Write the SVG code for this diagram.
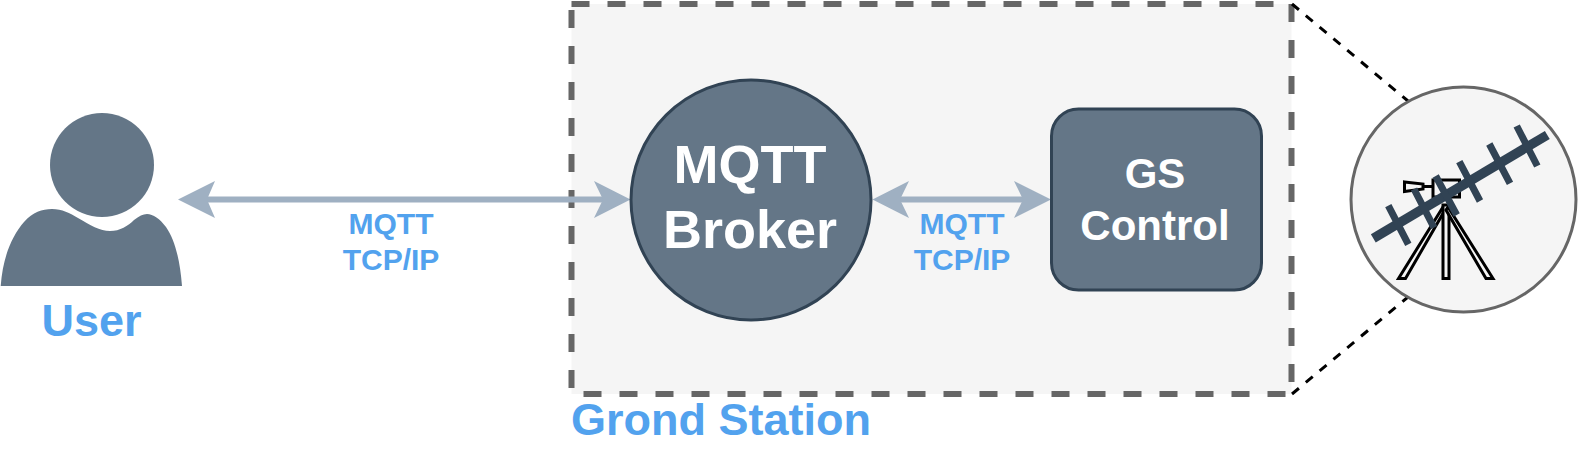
<svg xmlns="http://www.w3.org/2000/svg" width="1593" height="462" viewBox="0 0 1593 462">
<defs>
<style>
text{font-family:"Liberation Sans",Arial,sans-serif;font-weight:bold;text-anchor:middle}
.blue{fill:#52a2ee}
.white{fill:#fff}
.lnk{fill:none;stroke:#9fb0c2;stroke-width:6}
.head{fill:#9fb0c2}
.dark{fill:#647687;stroke:#314354;stroke-width:3}
.el{stroke:#314354;stroke-width:7;fill:none}
.boom{stroke:#314354;stroke-width:9.500;fill:none}
.mount{fill:#f5f5f5;stroke:#000;stroke-width:3}
</style>
</defs>
<g id="ground-station">
<rect x="571.5" y="4" width="720" height="390" fill="#f5f5f5" stroke="#666" stroke-width="6" stroke-dasharray="18 18"/>
<text class="blue" x="721" y="435" font-size="45">Grond Station</text>
</g>
<g id="connectors">
<path d="M1292 4L1408 101" fill="none" stroke="#000" stroke-width="3" stroke-dasharray="9 9"/>
<path d="M1292 394L1408 297" fill="none" stroke="#000" stroke-width="3" stroke-dasharray="9 9"/>
<g id="link-user-broker">
<path class="lnk" d="M207 199.500H603"/>
<path class="head" d="M178 199.500L215 181L207 199.500L215 218Z"/>
<path class="head" d="M630.500 199.500L594 181L603 199.500L594 218Z"/>
</g>
<g id="link-broker-gs">
<path class="lnk" d="M900 199.500H1023"/>
<path class="head" d="M872.500 199.500L909 181L900 199.500L909 218Z"/>
<path class="head" d="M1051 199.500L1014 181L1023 199.500L1014 218Z"/>
</g>
<text class="blue" x="391" y="233.500" font-size="30">MQTT</text>
<text class="blue" x="391" y="269.500" font-size="30">TCP/IP</text>
<text class="blue" x="962" y="233.500" font-size="30">MQTT</text>
<text class="blue" x="962" y="269.500" font-size="30">TCP/IP</text>
</g>
<g id="user">
<circle cx="102" cy="165" r="52" fill="#647687"/>
<path fill="#647687" d="M0.700 286C3 256 12 236 24 222C33 212 42 209 52 209C62 209 70 213 78 218C90 225 100 231 110 231C120 231 128 226 134 220C139 216 143 214 147 214C153 214 160 219 166 227C175 240 180 260 182 286Z"/>
<text class="blue" x="91.500" y="336" font-size="45">User</text>
</g>
<g id="broker">
<circle class="dark" cx="751" cy="200" r="120"/>
<text class="white" x="750" y="182.700" font-size="54">MQTT</text>
<text class="white" x="750" y="248.300" font-size="54">Broker</text>
</g>
<g id="gs-control">
<rect class="dark" x="1051.500" y="109" width="210" height="181" rx="27" ry="27"/>
<text class="white" x="1155" y="188" font-size="42">GS</text>
<text class="white" x="1155" y="240" font-size="42">Control</text>
</g>
<g id="antenna">
<circle cx="1463.500" cy="199.500" r="112.500" fill="#f5f5f5" stroke="#666" stroke-width="3"/>
<path class="mount" d="M1398.500 278.500L1443 207L1445 210L1405.500 278.500Z"/>
<path class="mount" d="M1443 205H1449V278.500H1443Z"/>
<path class="mount" d="M1493 278.500L1448 207L1446 210L1486 278.500Z"/>
<path class="mount" d="M1404.500 182L1423 184L1423 189L1404.500 191.500Z"/>
<rect class="mount" x="1433" y="180" width="26.500" height="17"/>
<path d="M1423 186.500H1433" stroke="#000" stroke-width="3"/>
<path class="boom" d="M1373.300 238.300L1547.300 135"/>
<path class="el" d="M1388.300 205.700L1408.300 244.300M1414 189L1434 227.700M1435.700 176L1456.700 215M1459.300 161.700L1480 201M1489.300 144L1510 183.300M1516.700 126L1537.300 166"/>
</g>
</svg>
